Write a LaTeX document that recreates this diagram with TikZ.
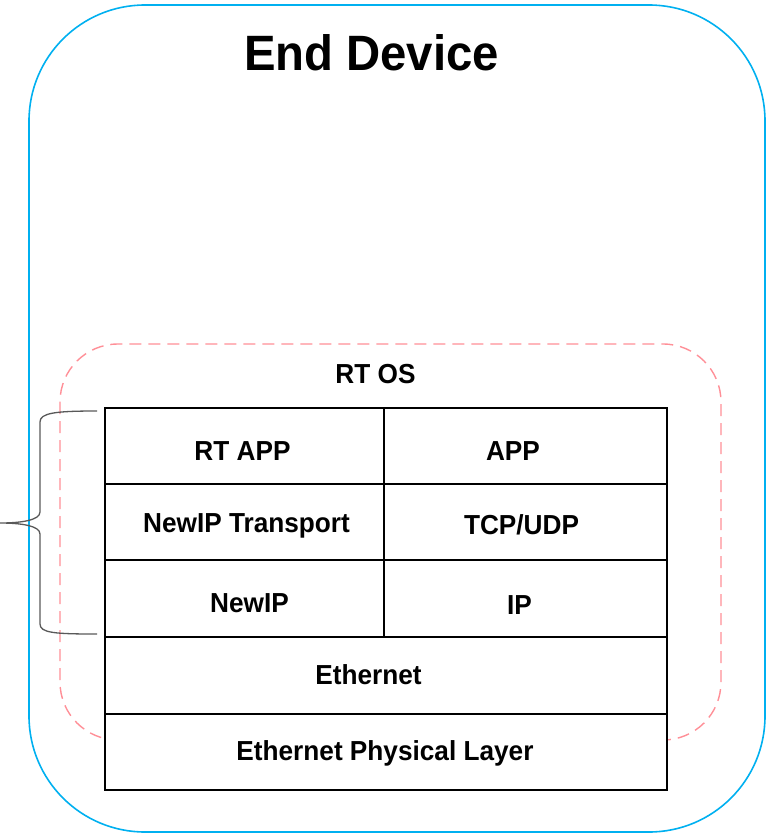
\documentclass[tikz,border=0pt]{standalone}
\usepackage{fontspec}
\setmainfont{Liberation Sans}
\definecolor{devblue}{HTML}{00B0F0}
\definecolor{ospink}{HTML}{FF8F97}
\definecolor{bracegray}{HTML}{595959}
\newcommand{\tallstr}[1]{\scalebox{1}[1.05]{#1}}
\tikzset{
  layerbox/.style={draw=black, line width=1.8pt, fill=white, anchor=north west,
    inner sep=0pt, outer sep=0pt},
  layertext/.style={anchor=base, inner sep=0pt, outer sep=0pt,
    font=\fontsize{26.2}{30}\selectfont\bfseries},
  titletext/.style={anchor=base, inner sep=0pt, outer sep=0pt,
    font=\fontsize{47.3}{54}\selectfont\bfseries},
  devframe/.style={draw=devblue, line width=1.6pt, rounded corners=116pt},
  osframe/.style={draw=ospink, line width=1.4pt, dash pattern=on 12pt off 7pt, rounded corners=58pt},
  bracestyle/.style={draw=bracegray, line width=1.3pt},
}
\begin{document}
\begin{tikzpicture}[x=1pt,y=-1pt]
\useasboundingbox (0,0) rectangle (773,833);
% outer device frame
\draw[devframe] (29,5) rectangle (765,832);
\node[titletext] (title) at (371.5,70.7) {\tallstr{End Device}};
% RT OS frame
\draw[osframe] (60,344) rectangle (721,740);
\node[layertext] (rtos) at (375.5,383.3) {\tallstr{RT OS}};
% layers
\node[layerbox, minimum width=279pt, minimum height=76pt] (rtapp) at (105,408) {};
\node[layerbox, minimum width=283pt, minimum height=76pt] (app) at (384,408) {};
\node[layerbox, minimum width=279pt, minimum height=76pt] (nipt) at (105,484) {};
\node[layerbox, minimum width=283pt, minimum height=76pt] (tcp) at (384,484) {};
\node[layerbox, minimum width=279pt, minimum height=77pt] (nip) at (105,560) {};
\node[layerbox, minimum width=283pt, minimum height=77pt] (ip) at (384,560) {};
\node[layerbox, minimum width=562pt, minimum height=77pt] (eth) at (105,637) {};
\node[layerbox, minimum width=562pt, minimum height=76pt] (phy) at (105,714) {};
% layer labels
\node[layertext] (rtapp-l) at (242.5,460.3) {\tallstr{RT APP}};
\node[layertext] (app-l) at (513,460.8) {\tallstr{APP}};
\node[layertext] (nipt-l) at (246.5,532.3) {\tallstr{NewIP Transport}};
\node[layertext] (tcp-l) at (521.5,534.8) {\tallstr{TCP/UDP}};
\node[layertext] (nip-l) at (249.5,612.3) {\tallstr{NewIP}};
\node[layertext] (ip-l) at (519.5,614.3) {\tallstr{IP}};
\node[layertext] (eth-l) at (368.5,684.8) {\tallstr{Ethernet}};
\node[layertext] (phy-l) at (385,760.8) {\tallstr{Ethernet Physical Layer}};
% brace
\coordinate (bt) at (97,411);
\coordinate (bb) at (97,634);
\coordinate (btip) at (0,523);
\draw[bracestyle] (bt) .. controls (55,411) and (40,413) .. (40,422) -- (40,512)
  .. controls (40,520) and (22,523) .. (btip)
  .. controls (22,523) and (40,526) .. (40,534) -- (40,624)
  .. controls (40,633) and (55,634) .. (bb);
\end{tikzpicture}
\end{document}
